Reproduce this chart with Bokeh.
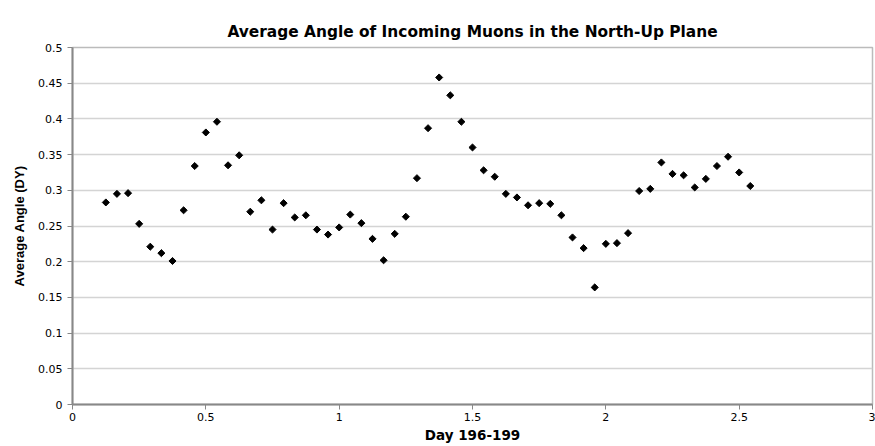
import math
from bokeh.plotting import figure
from bokeh.models import Range1d, FixedTicker
from bokeh.embed import file_html
from bokeh.resources import INLINE

# Data: hourly samples (day fraction = hour/24), days 196-199
hours = list(range(3, 62))
angle = [0.283, 0.295, 0.296, 0.253, 0.221, 0.212, 0.201, 0.272, 0.334, 0.381,
         0.396, 0.335, 0.349, 0.270, 0.286, 0.245, 0.282, 0.262, 0.265, 0.245,
         0.238, 0.248, 0.266, 0.254, 0.232, 0.202, 0.239, 0.263, 0.317, 0.387,
         0.458, 0.433, 0.396, 0.360, 0.328, 0.319, 0.295, 0.290, 0.279, 0.282,
         0.281, 0.265, 0.234, 0.219, 0.164, 0.225, 0.226, 0.240, 0.299, 0.302,
         0.339, 0.323, 0.321, 0.304, 0.316, 0.334, 0.347, 0.325, 0.306]
days = [h / 24 for h in hours]

x_ticks = [0, 0.5, 1, 1.5, 2, 2.5, 3]
x_tick_labels = ["0", "0.5", "1", "1.5", "2", "2.5", "3"]
y_ticks = [0, 0.05, 0.1, 0.15, 0.2, 0.25, 0.3, 0.35, 0.4, 0.45, 0.5]
y_tick_labels = ["0", "0.05", "0.1", "0.15", "0.2", "0.25", "0.3", "0.35", "0.4", "0.45", "0.5"]
title_text = "Average Angle of Incoming Muons in the North-Up Plane"

p = figure(width=875, height=446, output_backend="svg", toolbar_location=None,
           x_range=Range1d(0, 3), y_range=Range1d(0, 0.5),
           min_border_left=72, min_border_right=3, min_border_top=47,
           min_border_bottom=42)

p.title.text = title_text
p.title.align = "center"
p.title.vertical_align = "top"
p.title.text_font = "DejaVu Sans"
p.title.text_font_size = "15.4px"
p.title.text_font_style = "bold"
p.title.text_color = "black"
p.title.standoff = 10

p.scatter(days, angle, marker="square", angle=math.pi / 4, size=5, color="black")

for ax, ticks, labels in ((p.xaxis[0], x_ticks, x_tick_labels), (p.yaxis[0], y_ticks, y_tick_labels)):
    ax.ticker = FixedTicker(ticks=ticks)
    ax.major_label_overrides = {t: l for t, l in zip(ticks, labels)}
    ax.minor_tick_line_color = None
    ax.major_tick_in = 0
    ax.major_tick_out = 5
    ax.major_tick_line_color = "#888888"
    ax.axis_line_color = "#888888"
    ax.axis_line_width = 2
    ax.major_label_text_font = "DejaVu Sans"
    ax.major_label_text_font_size = "11px"
    ax.major_label_text_color = "black"
    ax.axis_label_text_font_style = "bold"
    ax.axis_label_text_color = "black"

p.xaxis.axis_label = "Day 196-199"
p.xaxis.axis_label_text_font = "DejaVu Sans"
p.xaxis.axis_label_text_font_size = "13.5px"
p.xaxis.major_label_standoff = 3
p.xaxis.axis_label_standoff = 3

p.yaxis.axis_label = "Average Angle (DY)"
p.yaxis.axis_label_text_font = "Liberation Sans"
p.yaxis.axis_label_text_font_size = "13px"
p.yaxis.major_label_standoff = 5
p.yaxis.axis_label_standoff = 8

p.xgrid.grid_line_color = None
p.ygrid.grid_line_color = "#d4d4d4"
p.ygrid.grid_line_width = 1.5
p.outline_line_color = "#bbbbbb"
p.outline_line_width = 1.5
p.background_fill_color = "white"
p.border_fill_color = "white"

open("out.html", "w").write(file_html(p, INLINE))
